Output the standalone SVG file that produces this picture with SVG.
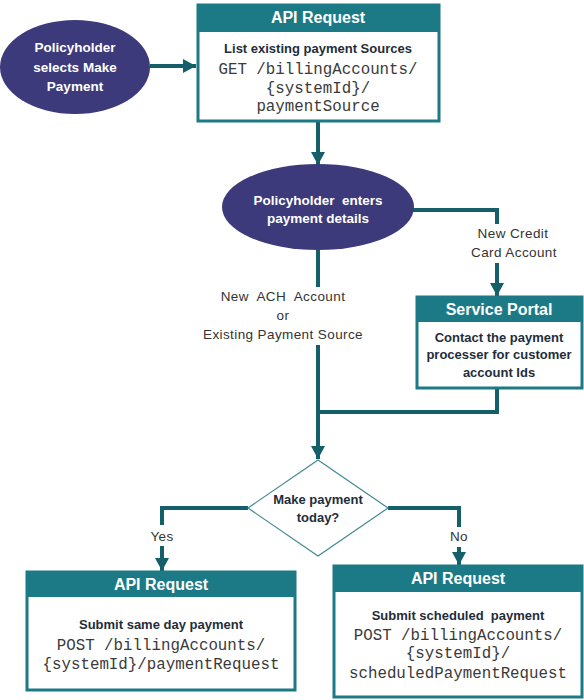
<svg xmlns="http://www.w3.org/2000/svg" width="584" height="700" viewBox="0 0 584 700">
<style>
text{white-space:pre}
.ell{fill:#3d3a7c}
.ellt{font-family:"Liberation Sans",Arial,sans-serif;font-weight:bold;font-size:13.5px;fill:#ffffff;text-anchor:middle}
.box{fill:#ffffff;stroke:#1b7a85;stroke-width:3}
.hdr{fill:#1b7a85}
.hdrt{font-family:"Liberation Sans",Arial,sans-serif;font-weight:bold;font-size:16px;fill:#ffffff;text-anchor:middle}
.bt{font-family:"Liberation Sans",Arial,sans-serif;font-weight:bold;font-size:13px;fill:#1f2d3a;text-anchor:middle}
.mono{font-family:"Liberation Mono","Courier New",monospace;font-size:15.8px;fill:#3a3a3a;text-anchor:middle}
.lbl{font-family:"Liberation Sans",Arial,sans-serif;font-size:13.5px;fill:#333333;text-anchor:middle;letter-spacing:0.4px}
.con{fill:none;stroke:#145f6a;stroke-width:4}
.dia{fill:#ffffff;stroke:#3f8a93;stroke-width:1.2}
</style>
<defs>
<marker id="ah" markerUnits="userSpaceOnUse" markerWidth="14" markerHeight="14" refX="13" refY="7" orient="auto">
<path d="M0,0 L13,7 L0,14 z" fill="#145f6a"/>
</marker>
</defs>
<g id="connectors">
<path class="con" d="M150,66 H196" marker-end="url(#ah)"/>
<path class="con" d="M318,121 V165" marker-end="url(#ah)"/>
<path class="con" d="M411,210 H497 V224"/>
<path class="con" d="M497,263 V296" marker-end="url(#ah)"/>
<path class="con" d="M318,250 V287"/>
<path class="con" d="M318,345 V459" marker-end="url(#ah)"/>
<path class="con" d="M497,388 V412 H318"/>
<path class="con" d="M248,508 H162 V525"/>
<path class="con" d="M162,546 V571" marker-end="url(#ah)"/>
<path class="con" d="M388,508 H459 V527"/>
<path class="con" d="M459,547 V565" marker-end="url(#ah)"/>
</g>
<g id="start">
<ellipse class="ell" cx="75" cy="67" rx="75" ry="47"/>
<text class="ellt" x="75" y="52">Policyholder</text>
<text class="ellt" x="75" y="72">selects Make</text>
<text class="ellt" x="75" y="91">Payment</text>
</g>
<g id="api-list">
<rect class="box" x="198" y="5" width="241" height="116"/>
<rect class="hdr" x="198" y="5" width="241" height="27"/>
<text class="hdrt" x="318" y="23">API Request</text>
<text class="bt" x="318" y="53">List existing payment Sources</text>
<text class="mono" x="318" y="74">GET /billingAccounts/</text>
<text class="mono" x="318" y="93">{systemId}/</text>
<text class="mono" x="318" y="111">paymentSource</text>
</g>
<g id="enter-details">
<ellipse class="ell" cx="318" cy="207" rx="96" ry="43"/>
<text class="ellt" x="318" y="205">Policyholder  enters</text>
<text class="ellt" x="318" y="223">payment details</text>
</g>
<g id="label-credit">
<text class="lbl" x="513" y="238">New Credit</text>
<text class="lbl" x="514" y="257">Card Account</text>
</g>
<g id="label-ach">
<text class="lbl" x="283" y="301">New  ACH  Account</text>
<text class="lbl" x="283" y="320">or</text>
<text class="lbl" x="283" y="339">Existing Payment Source</text>
</g>
<g id="service-portal">
<rect class="box" x="417" y="297" width="165" height="91"/>
<rect class="hdr" x="417" y="297" width="165" height="25"/>
<text class="hdrt" x="499" y="315">Service Portal</text>
<text class="bt" x="499" y="342">Contact the payment</text>
<text class="bt" x="499" y="359">processer for customer</text>
<text class="bt" x="499" y="377">account Ids</text>
</g>
<g id="decision">
<polygon class="dia" points="318,460 388,508 318,556 248,508"/>
<text class="bt" x="318" y="504">Make payment</text>
<text class="bt" x="318" y="522">today?</text>
</g>
<g id="label-yes"><text class="lbl" x="162" y="541">Yes</text></g>
<g id="label-no"><text class="lbl" x="459" y="541">No</text></g>
<g id="api-same-day">
<rect class="box" x="27" y="572" width="268" height="118"/>
<rect class="hdr" x="27" y="572" width="268" height="25"/>
<text class="hdrt" x="161" y="590">API Request</text>
<text class="bt" x="161" y="629">Submit same day payment</text>
<text class="mono" x="161" y="650">POST /billingAccounts/</text>
<text class="mono" x="161" y="669">{systemId}/paymentRequest</text>
</g>
<g id="api-scheduled">
<rect class="box" x="334" y="566" width="248" height="131"/>
<rect class="hdr" x="334" y="566" width="248" height="26"/>
<text class="hdrt" x="458" y="584">API Request</text>
<text class="bt" x="458" y="620">Submit scheduled  payment</text>
<text class="mono" x="458" y="640">POST /billingAccounts/</text>
<text class="mono" x="458" y="658">{systemId}/</text>
<text class="mono" x="458" y="678">scheduledPaymentRequest</text>
</g>
</svg>
